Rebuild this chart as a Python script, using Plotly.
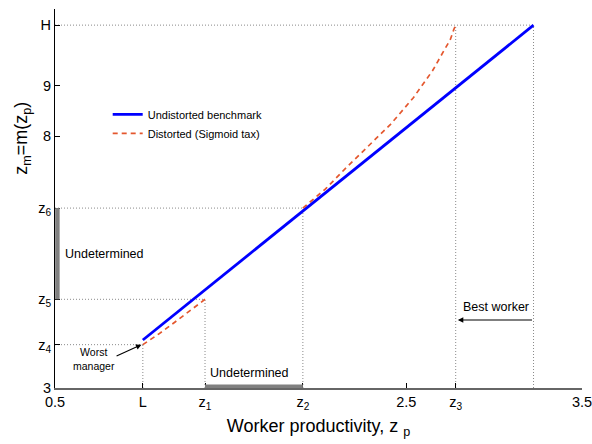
import plotly.graph_objects as go

FONT = "Liberation Sans, Arial, Helvetica, sans-serif"

# worker-productivity landmarks (x axis)
L = 1.0
Z1 = 1.354
Z2 = 1.911
Z3 = 2.781
BEST = 3.224

# manager-productivity landmarks (y axis)
Z4 = 3.86
Z5 = 4.76
Z6 = 6.57
H = 10.20

x_tickvals = [0.5, L, Z1, Z2, 2.5, Z3, 3.5]
x_ticktext = ["0.5", "L", "z<sub>1</sub>", "z<sub>2</sub>", "2.5", "z<sub>3</sub>", "3.5"]
y_tickvals = [3, Z4, Z5, Z6, 8, 9, H]
y_ticktext = ["3", "z<sub>4</sub>", "z<sub>5</sub>", "z<sub>6</sub>", "8", "9", "H"]

# undistorted matching function
bench_x = [L, BEST]
bench_y = [3.952, H]

# distorted matching function (two branches, gap between z1 and z2)
tax_x_low = [L, 1.09, 1.18, 1.27, Z1]
tax_y_low = [Z4, 4.07, 4.30, 4.53, Z5]
tax_x_high = [Z2, 2.04, 2.16, 2.29, 2.41, 2.54, 2.65, 2.71, 2.75, 2.77, Z3]
tax_y_high = [Z6, 6.95, 7.38, 7.83, 8.23, 8.76, 9.30, 9.67, 9.91, 10.11, H]

X_RANGE = [0.5, 3.5]
Y_RANGE = [3, 10.52]

fig = go.Figure()

fig.add_trace(go.Scatter(
    x=bench_x, y=bench_y, mode="lines",
    line=dict(color="#0000FF", width=2.8),
    name="Undistorted benchmark",
))
fig.add_trace(go.Scatter(
    x=tax_x_low + [None] + tax_x_high,
    y=tax_y_low + [None] + tax_y_high,
    mode="lines", connectgaps=False,
    line=dict(color="#E4572E", width=1.7, dash="5px,4px"),
    name="Distorted (Sigmoid tax)",
))

# dotted guide lines to the landmarks
guide = dict(color="#8a8a8a", width=1, dash="1px,2px")
x0, y0 = X_RANGE[0], Y_RANGE[0]
segments = [
    (x0, Z4, L, Z4), (L, y0, L, Z4),
    (x0, Z5, Z1, Z5), (Z1, y0, Z1, Z5),
    (x0, Z6, Z2, Z6), (Z2, y0, Z2, Z6),
    (x0, H, BEST, H), (Z3, y0, Z3, H), (BEST, y0, BEST, H),
]
shapes = [dict(type="line", xref="x", yref="y", x0=a, y0=b, x1=c, y1=d,
               line=guide, layer="below") for a, b, c, d in segments]

# grey bars marking the undetermined ranges
px_x = (X_RANGE[1] - X_RANGE[0]) / 526.7
px_y = (Y_RANGE[1] - Y_RANGE[0]) / 379.0
shapes.append(dict(type="line", xref="x", yref="y",
                   x0=x0 + 2.4 * px_x, x1=x0 + 2.4 * px_x, y0=Z5, y1=Z6,
                   line=dict(color="#808080", width=4.5)))
shapes.append(dict(type="line", xref="x", yref="y",
                   x0=Z1, x1=Z2, y0=y0 + 1.8 * px_y, y1=y0 + 1.8 * px_y,
                   line=dict(color="#808080", width=3.5)))

annotations = [
    dict(x=x0 + 8 * px_x, y=(Z5 + Z6) / 2, xref="x", yref="y",
         text="Undetermined", showarrow=False, xanchor="left", yanchor="middle",
         font=dict(size=12.5, color="black")),
    dict(x=Z1 + 2.5 * px_x, y=3.29, xref="x", yref="y",
         text="Undetermined", showarrow=False, xanchor="left", yanchor="middle",
         font=dict(size=12.5, color="black")),
    dict(x=0.722, y=3.575, xref="x", yref="y",
         text="Worst<br>manager", showarrow=False, xanchor="center", yanchor="middle",
         align="center", font=dict(size=10.5, color="black")),
    dict(x=L - 0.008, y=Z4, ax=0.842, ay=3.62, xref="x", yref="y",
         axref="x", ayref="y", text="", showarrow=True,
         arrowhead=2, arrowsize=1, arrowwidth=1.1, arrowcolor="black", standoff=0),
    dict(x=2.809, y=4.607, xref="x", yref="y",
         text="Best worker", showarrow=False, xanchor="left", yanchor="middle",
         font=dict(size=12.5, color="black")),
    dict(x=Z3 + 0.012, y=4.35, ax=BEST, ay=4.35, xref="x", yref="y",
         axref="x", ayref="y", text="", showarrow=True,
         arrowhead=2, arrowsize=1, arrowwidth=1.1, arrowcolor="black", standoff=0),
    dict(x=-0.061, y=0.66, xref="paper", yref="paper",
         text="z<sub>m</sub>=m(z<sub>p</sub>)", textangle=-90, showarrow=False,
         xanchor="center", yanchor="middle", font=dict(size=18, color="black")),
]

fig.update_layout(
    width=592, height=444,
    margin=dict(l=55, r=10, t=9, b=56, autoexpand=False),
    paper_bgcolor="white", plot_bgcolor="white",
    font=dict(family=FONT, color="black"),
    shapes=shapes, annotations=annotations,
    showlegend=True,
    legend=dict(x=0.1, y=0.76, xanchor="left", yanchor="top",
                bgcolor="rgba(0,0,0,0)", font=dict(size=11), itemwidth=30,
                tracegroupgap=0),
    xaxis=dict(range=X_RANGE, tickvals=x_tickvals, ticktext=x_ticktext,
               ticks="inside", ticklen=5, tickcolor="black", tickwidth=1,
               showline=True, linecolor="#666666", linewidth=1.5,
               showgrid=False, zeroline=False, ticklabeloverflow="allow",
               automargin=False, tickfont=dict(size=14.5),
               title=dict(text="Worker productivity, z <sub>p</sub>",
                          font=dict(size=18), standoff=8)),
    yaxis=dict(range=Y_RANGE, tickvals=y_tickvals, ticktext=y_ticktext,
               ticks="inside", ticklen=5, tickcolor="black", tickwidth=1,
               showline=True, linecolor="black", linewidth=1,
               showgrid=False, zeroline=False, ticklabeloverflow="allow",
               automargin=False, tickfont=dict(size=14.5)),
)

fig.write_html("out.html")
